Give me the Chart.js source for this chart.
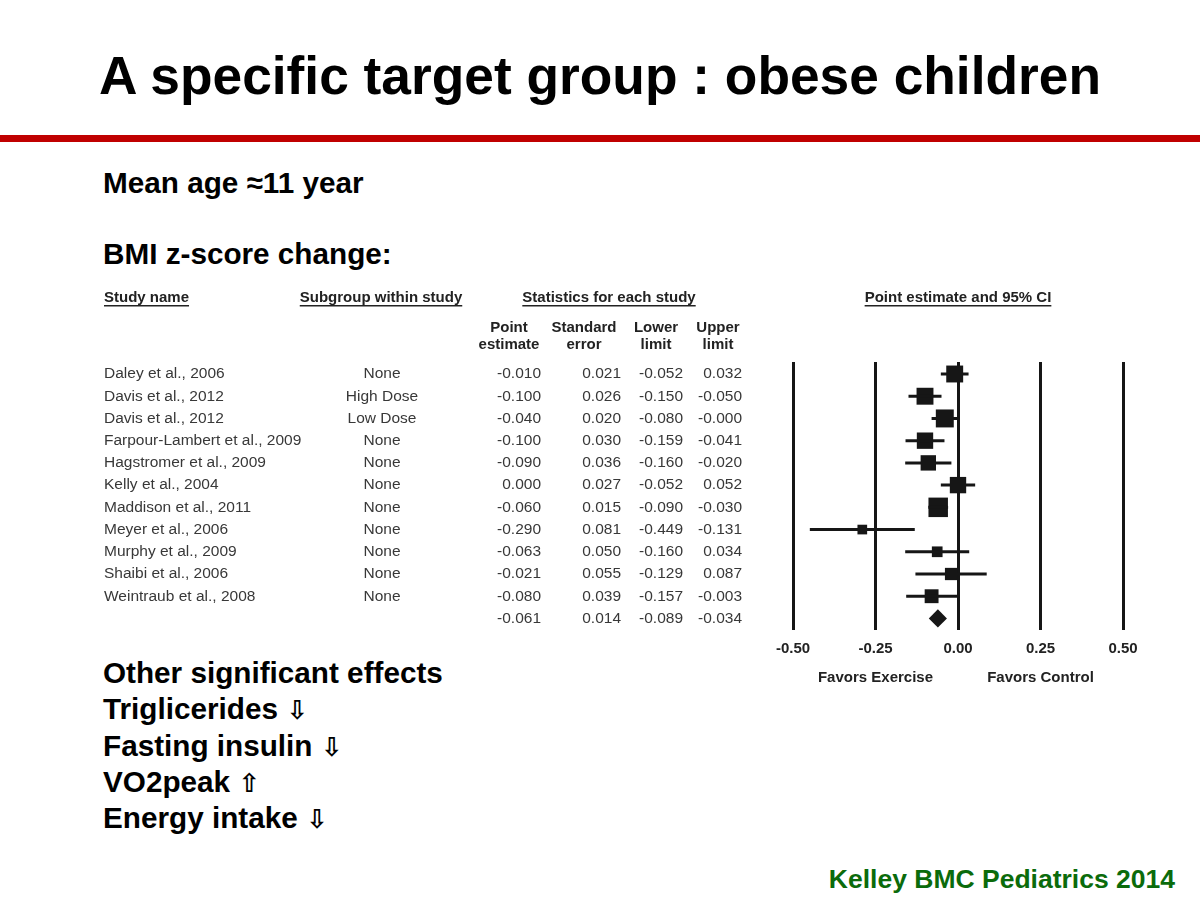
<!DOCTYPE html>
<html>
<head>
<meta charset="utf-8">
<script src="https://cdn.jsdelivr.net/npm/chart.js@4.4.1/dist/chart.umd.min.js"></script>
<style>
  body { margin:0; width:1200px; height:900px; background:#fff; position:relative; overflow:hidden;
         font-family:"Liberation Sans", Arial, Helvetica, sans-serif; color:#000; }
  .t { position:absolute; font-weight:bold; white-space:nowrap; line-height:1; }
  #title { left:99px; top:49px; font-size:53.3px; }
  #rule { position:absolute; left:0; top:135px; width:1200px; height:7px; background:#c00000; }
  .big { font-size:29.7px; left:103px; }
  .arr { font-family:"DejaVu Sans", sans-serif; font-size:26px; font-weight:bold; }
  #cite { right:25px; top:866px; font-size:26.5px; color:#0b6b0b; }
  #fp { position:absolute; left:0; top:280px; }
</style>
</head>
<body>
<div id="title" class="t">A specific target group : obese children</div>
<div id="rule"></div>
<div class="t big" style="top:168px">Mean age ≈11 year</div>
<div class="t big" style="top:239px">BMI z-score change:</div>
<div class="t big" style="top:658px">Other significant effects</div>
<div class="t big" style="top:694px">Triglicerides <span class="arr">⇩</span></div>
<div class="t big" style="top:731px">Fasting insulin <span class="arr">⇩</span></div>
<div class="t big" style="top:767px">VO2peak <span class="arr">⇧</span></div>
<div class="t big" style="top:803px">Energy intake <span class="arr">⇩</span></div>
<div id="cite" class="t">Kelley BMC Pediatrics 2014</div>

<canvas id="fp" width="1200" height="440"></canvas>

<script>
let studies = ['Daley et al., 2006','Davis et al., 2012','Davis et al., 2012','Farpour-Lambert et al., 2009',
    'Hagstromer et al., 2009','Kelly et al., 2004','Maddison et al., 2011','Meyer et al., 2006',
    'Murphy et al., 2009','Shaibi et al., 2006','Weintraub et al., 2008'];
let subgroups = ['None','High Dose','Low Dose','None','None','None','None','None','None','None','None'];
let pointEst = [-0.010,-0.100,-0.040,-0.100,-0.090,0.000,-0.060,-0.290,-0.063,-0.021,-0.080];
let stdErr   = [0.021,0.026,0.020,0.030,0.036,0.027,0.015,0.081,0.050,0.055,0.039];
let lowerLim = [-0.052,-0.150,-0.080,-0.159,-0.160,-0.052,-0.090,-0.449,-0.160,-0.129,-0.157];
let upperLim = [0.032,-0.050,-0.000,-0.041,-0.020,0.052,-0.030,-0.131,0.034,0.087,-0.003];
// relative weight (%)
let relWeight = [11.0,11.0,12.4,10.3,9.1,10.3,14.6,3.6,4.4,5.8,7.4];
// pooled: point, SE, lower, upper
let summaryStats = [-0.061,0.014,-0.089,-0.034];
let xTicks = [-0.50,-0.25,0.00,0.25,0.50];

const ink = '#161616';
const rowFont = '15.5px "Liberation Sans", Arial, sans-serif';
const headFont = 'bold 15px "Liberation Sans", Arial, sans-serif';

function fmt(v) {
    let neg = v < 0 || Object.is(v, -0);
    return (neg ? '-' : '') + Math.abs(v).toFixed(3);
}

// CI whiskers: one segment per study, broken by nulls
let ciData = [];
pointEst.forEach((p, i) => {
    ciData.push({x: lowerLim[i], y: i});
    ciData.push({x: upperLim[i], y: i});
    ciData.push({x: null, y: null});
});

function underlined(ctx, text, cx, cy) {
    ctx.textAlign = 'center';
    ctx.fillText(text, cx, cy);
    let w = ctx.measureText(text).width;
    ctx.fillRect(cx - w / 2, cy + 7, w, 1.5);
}

const tableText = {
    id: 'tableText',
    afterDraw(chart) {
        const {ctx, scales: {x, y}} = chart;
        ctx.save();
        ctx.textBaseline = 'middle';

        // headers
        ctx.fillStyle = '#222';
        ctx.font = headFont;
        ctx.textAlign = 'left';
        ctx.fillText('Study name', 104, 18);
        let w = ctx.measureText('Study name').width;
        ctx.fillRect(104, 25, w, 1.5);
        underlined(ctx, 'Subgroup within study', 381, 18);
        underlined(ctx, 'Statistics for each study', 609, 18);
        underlined(ctx, 'Point estimate and 95% CI', x.getPixelForValue(0), 18);

        ctx.textAlign = 'center';
        [['Point','estimate',509],['Standard','error',584],['Lower','limit',656],['Upper','limit',718]]
            .forEach(h => {
                ctx.fillText(h[0], h[2], 47.5);
                ctx.fillText(h[1], h[2], 65);
            });

        // rows
        ctx.fillStyle = '#383838';
        ctx.font = rowFont;
        let rightCols = [541, 621, 683, 742];
        studies.forEach((name, i) => {
            let py = y.getPixelForValue(i);
            ctx.textAlign = 'left';
            ctx.fillText(name, 104, py);
            ctx.textAlign = 'center';
            ctx.fillText(subgroups[i], 382, py);
            ctx.textAlign = 'right';
            [pointEst[i], stdErr[i], lowerLim[i], upperLim[i]].forEach((v, k) => {
                ctx.fillText(fmt(v), rightCols[k], py);
            });
        });
        let sy = y.getPixelForValue(studies.length);
        ctx.textAlign = 'right';
        summaryStats.forEach((v, k) => ctx.fillText(fmt(v), rightCols[k], sy));

        // favours labels under the axis
        ctx.fillStyle = '#222';
        ctx.font = headFont;
        ctx.textAlign = 'center';
        ctx.fillText('Favors Exercise', x.getPixelForValue(-0.25), 398);
        ctx.fillText('Favors Control', x.getPixelForValue(0.25), 398);
        ctx.restore();
    }
};

const fpChart = new Chart(document.getElementById('fp'), {
    type: 'scatter',
    data: {
        datasets: [
            {
                label: 'CI',
                data: ciData,
                showLine: true,
                spanGaps: false,
                borderColor: ink,
                borderWidth: 3,
                pointRadius: 0
            },
            {
                label: 'Point estimate',
                data: pointEst.map((p, i) => ({x: p, y: i})),
                pointStyle: 'rect',
                pointRadius: relWeight.map(wt => 5.1 * Math.sqrt(wt) / Math.SQRT2),
                backgroundColor: ink,
                borderWidth: 0
            },
            {
                label: 'Pooled',
                data: [{x: summaryStats[0], y: studies.length}],
                pointStyle: 'rectRot',
                pointRadius: (c) => {
                    let s = c.chart.scales.x;
                    if (!s) return 9;
                    return (s.getPixelForValue(summaryStats[3]) - s.getPixelForValue(summaryStats[2])) / 2;
                },
                backgroundColor: ink,
                borderWidth: 0
            }
        ]
    },
    options: {
        responsive: false,
        animation: false,
        events: [],
        layout: {padding: {left: 793, right: 77, top: 82, bottom: 50}},
        scales: {
            x: {
                type: 'linear',
                min: -0.5,
                max: 0.5,
                afterBuildTicks: (s) => { s.ticks = xTicks.map(v => ({value: v})); },
                afterFit: (s) => { s.height = 40; },
                grid: {color: ink, lineWidth: 3, drawTicks: false},
                border: {display: false},
                ticks: {
                    padding: 10,
                    color: '#222',
                    font: {family: '"Liberation Sans", Arial, sans-serif', size: 15, weight: 'bold'},
                    callback: (v) => v.toFixed(2)
                }
            },
            y: {
                type: 'linear',
                reverse: true,
                min: -0.54,
                max: 11.52,
                display: false
            }
        },
        plugins: {
            legend: {display: false},
            tooltip: {enabled: false}
        }
    },
    plugins: [tableText]
});
</script>
</body>
</html>
